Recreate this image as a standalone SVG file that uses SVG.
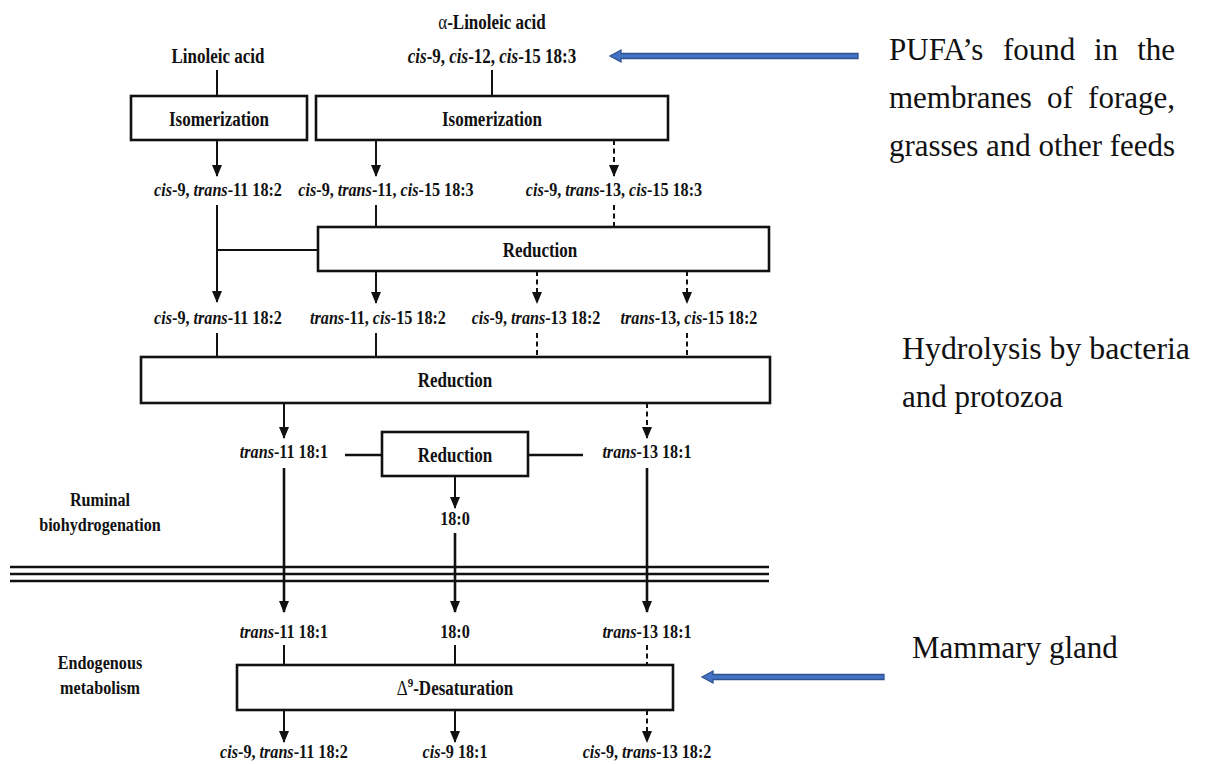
<svg xmlns="http://www.w3.org/2000/svg" width="1205" height="764" viewBox="0 0 1205 764">
<style>
.t{font-family:"Liberation Serif","Times New Roman",serif;font-weight:bold;font-size:19px;fill:#111;text-anchor:middle}
.bx{font-size:20px}
.i{font-style:italic}
.n{font-weight:normal}
.box{fill:#fff;stroke:#111;stroke-width:2.6}
.ln{fill:none;stroke:#111;stroke-width:2}
.thick{stroke-width:2.6}
.ds{stroke-dasharray:5 3.5}
.rt{font-family:"Liberation Serif","Times New Roman",serif;font-size:31px;fill:#111}
.blue{fill:#4472C4;stroke:#2F528F;stroke-width:1.3}
</style>
<defs>
<marker id="ah" viewBox="0 0 12 10" refX="11" refY="5" markerWidth="12" markerHeight="10" markerUnits="userSpaceOnUse" orient="auto">
<path d="M0,0 L12,5 L0,10 Z" fill="#111"/>
</marker>
</defs>
<rect width="1205" height="764" fill="#fff"/>

<g id="connectors">
<path class="ln" d="M217,70 V96 M492,70 V96"/>
<path class="ln" d="M217,140 V176" marker-end="url(#ah)"/>
<path class="ln" d="M376,140 V176" marker-end="url(#ah)"/>
<path class="ln ds" d="M614,140 V176" marker-end="url(#ah)"/>
<path class="ln" d="M217,205 V302" marker-end="url(#ah)"/>
<path class="ln" d="M217,250 H318 M376,205 V227"/>
<path class="ln ds" d="M614,205 V227"/>
<path class="ln" d="M376,271 V303" marker-end="url(#ah)"/>
<path class="ln ds" d="M537,271 V303" marker-end="url(#ah)"/>
<path class="ln ds" d="M687,271 V303" marker-end="url(#ah)"/>
<path class="ln" d="M217,333 V357 M376,333 V357"/>
<path class="ln ds" d="M537,333 V357 M687,333 V357"/>
<path class="ln" d="M284,403 V438" marker-end="url(#ah)"/>
<path class="ln ds" d="M647,403 V438" marker-end="url(#ah)"/>
<path class="ln thick" d="M345,455 H382 M528,455 H583"/>
<path class="ln" d="M455,476 V508" marker-end="url(#ah)"/>
<path class="ln thick" d="M284,468 V612" marker-end="url(#ah)"/>
<path class="ln thick" d="M647,468 V612" marker-end="url(#ah)"/>
<path class="ln thick" d="M455,533 V612" marker-end="url(#ah)"/>
<path class="ln" d="M10,567 H769 M10,574 H769 M10,581 H769" style="stroke-width:2.4"/>
<path class="ln" d="M284,645 V665 M455,645 V665"/>
<path class="ln ds" d="M647,645 V665"/>
<path class="ln" d="M284,710 V742" marker-end="url(#ah)"/>
<path class="ln" d="M455,710 V742" marker-end="url(#ah)"/>
<path class="ln ds" d="M647,710 V742" marker-end="url(#ah)"/>
<path class="blue" d="M610,56 L621,50 L621,53.5 L858,53.5 L858,58.5 L621,58.5 L621,62 Z"/>
<path class="blue" d="M702,677 L713,671 L713,674.5 L884,674.5 L884,679.5 L713,679.5 L713,683 Z"/>
</g>

<g id="n-linoleic"><text class="t bx" transform="matrix(0.85 0 0 1 218 63)">Linoleic acid</text></g>
<g id="n-ala">
<text class="t bx" transform="matrix(0.85 0 0 1 492 29)"><tspan class="n">α</tspan>-Linoleic acid</text>
<text class="t bx" transform="matrix(0.85 0 0 1 492 63)"><tspan class="i">cis</tspan>-9, <tspan class="i">cis</tspan>-12, <tspan class="i">cis</tspan>-15 18:3</text>
</g>
<g id="n-iso1"><rect class="box" x="131" y="96" width="176" height="44"/><text class="t bx" transform="matrix(0.85 0 0 1 219 126)">Isomerization</text></g>
<g id="n-iso2"><rect class="box" x="316" y="96" width="352" height="44"/><text class="t bx" transform="matrix(0.85 0 0 1 492 126)">Isomerization</text></g>
<g id="n-r2a"><text class="t" transform="matrix(0.85 0 0 1 218 196)"><tspan class="i">cis</tspan>-9, <tspan class="i">trans</tspan>-11 18:2</text></g>
<g id="n-r2b"><text class="t" transform="matrix(0.85 0 0 1 386 196)"><tspan class="i">cis</tspan>-9, <tspan class="i">trans</tspan>-11, <tspan class="i">cis</tspan>-15 18:3</text></g>
<g id="n-r2c"><text class="t" transform="matrix(0.85 0 0 1 614 196)"><tspan class="i">cis</tspan>-9, <tspan class="i">trans</tspan>-13, <tspan class="i">cis</tspan>-15 18:3</text></g>
<g id="n-red1"><rect class="box" x="318" y="227" width="451" height="44"/><text class="t bx" transform="matrix(0.85 0 0 1 540 257)">Reduction</text></g>
<g id="n-r3a"><text class="t" transform="matrix(0.85 0 0 1 218 324)"><tspan class="i">cis</tspan>-9, <tspan class="i">trans</tspan>-11 18:2</text></g>
<g id="n-r3b"><text class="t" transform="matrix(0.85 0 0 1 378 324)"><tspan class="i">trans</tspan>-11, <tspan class="i">cis</tspan>-15 18:2</text></g>
<g id="n-r3c"><text class="t" transform="matrix(0.85 0 0 1 536 324)"><tspan class="i">cis</tspan>-9, <tspan class="i">trans</tspan>-13 18:2</text></g>
<g id="n-r3d"><text class="t" transform="matrix(0.85 0 0 1 689 324)"><tspan class="i">trans</tspan>-13, <tspan class="i">cis</tspan>-15 18:2</text></g>
<g id="n-red2"><rect class="box" x="141" y="357" width="629" height="46"/><text class="t bx" transform="matrix(0.85 0 0 1 455 387)">Reduction</text></g>
<g id="n-r4a"><text class="t" transform="matrix(0.85 0 0 1 284 458)"><tspan class="i">trans</tspan>-11 18:1</text></g>
<g id="n-red3"><rect class="box" x="382" y="432" width="146" height="44"/><text class="t bx" transform="matrix(0.85 0 0 1 455 462)">Reduction</text></g>
<g id="n-r4c"><text class="t" transform="matrix(0.85 0 0 1 647 458)"><tspan class="i">trans</tspan>-13 18:1</text></g>
<g id="n-180a"><text class="t" transform="matrix(0.85 0 0 1 455 525)">18:0</text></g>
<g id="n-ruminal"><text class="t" transform="matrix(0.85 0 0 1 100 506)">Ruminal</text><text class="t" transform="matrix(0.85 0 0 1 100 531)">biohydrogenation</text></g>
<g id="n-r5a"><text class="t" transform="matrix(0.85 0 0 1 284 638)"><tspan class="i">trans</tspan>-11 18:1</text></g>
<g id="n-r5b"><text class="t" transform="matrix(0.85 0 0 1 455 638)">18:0</text></g>
<g id="n-r5c"><text class="t" transform="matrix(0.85 0 0 1 647 638)"><tspan class="i">trans</tspan>-13 18:1</text></g>
<g id="n-endo"><text class="t" transform="matrix(0.85 0 0 1 100 669)">Endogenous</text><text class="t" transform="matrix(0.85 0 0 1 100 694)">metabolism</text></g>
<g id="n-desat"><rect class="box" x="237" y="665" width="436" height="45"/><text class="t bx" transform="matrix(0.85 0 0 1 455 695)"><tspan class="n">Δ</tspan><tspan dy="-8" style="font-size:13px">9</tspan><tspan dy="8">-Desaturation</tspan></text></g>
<g id="n-r6a"><text class="t" transform="matrix(0.85 0 0 1 284 758)"><tspan class="i">cis</tspan>-9, <tspan class="i">trans</tspan>-11 18:2</text></g>
<g id="n-r6b"><text class="t" transform="matrix(0.85 0 0 1 455 758)"><tspan class="i">cis</tspan>-9 18:1</text></g>
<g id="n-r6c"><text class="t" transform="matrix(0.85 0 0 1 647 758)"><tspan class="i">cis</tspan>-9, <tspan class="i">trans</tspan>-13 18:2</text></g>

<g id="n-pufa">
<text class="rt" y="60"><tspan x="889">PUFA’s</tspan><tspan x="1003">found</tspan><tspan x="1094">in</tspan><tspan x="1175" text-anchor="end">the</tspan></text>
<text class="rt" y="108"><tspan x="889">membranes</tspan><tspan x="1047">of</tspan><tspan x="1175" text-anchor="end">forage,</tspan></text>
<text class="rt" x="889" y="156" textLength="286" lengthAdjust="spacingAndGlyphs">grasses and other feeds</text>
</g>
<g id="n-hydro">
<text class="rt" x="902" y="359" textLength="288" lengthAdjust="spacingAndGlyphs">Hydrolysis by bacteria</text>
<text class="rt" x="902" y="407">and protozoa</text>
</g>
<g id="n-mammary"><text class="rt" x="912" y="658">Mammary gland</text></g>
</svg>
